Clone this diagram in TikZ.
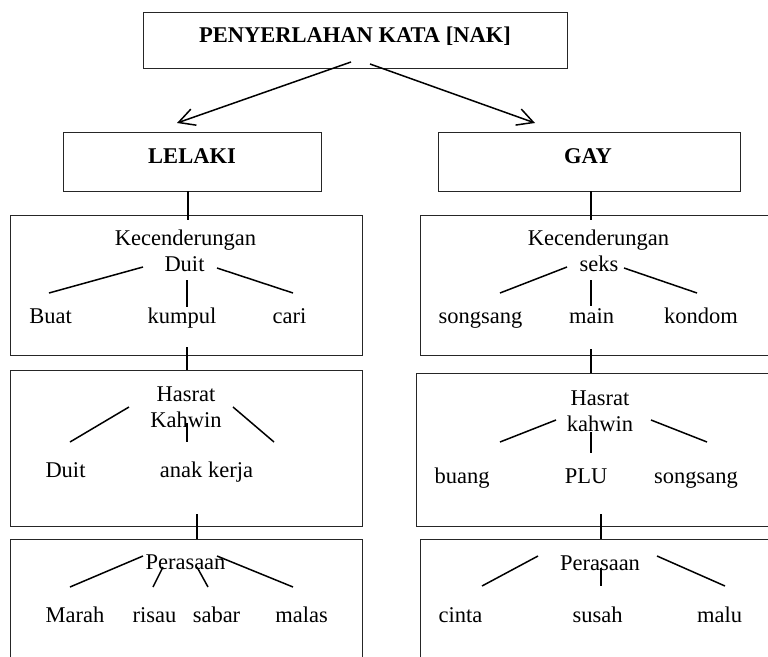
\documentclass[tikz,border=0pt]{standalone}
\usepackage{fontspec}
\setmainfont{Liberation Serif}
\usetikzlibrary{arrows.meta}
\begin{document}
\begin{tikzpicture}[x=1pt,y=-1pt,
  box/.style={draw=black!85,line width=1pt,rectangle,inner sep=0pt},
  lbl/.style={anchor=base,inner sep=0pt,font=\fontsize{22.5}{26}\selectfont},
  ttl/.style={anchor=base,inner sep=0pt,font=\fontsize{22.5}{26}\selectfont\bfseries},
  branch/.style={line width=1.5pt},
  link/.style={line width=1.5pt},
  arr/.style={line width=1.5pt,-{Straight Barb[length=16pt,width=17pt,line width=1.5pt]}}]
\useasboundingbox (0,0) rectangle (768,656);
\clip (0,0) rectangle (768,656);
\fill[white] (0,0) rectangle (768,656);

% boxes
\node[box,minimum width=424pt,minimum height=56pt] (top) at (355,40) {};
\node[box,minimum width=258pt,minimum height=59pt] (lelaki) at (192,161.5) {};
\node[box,minimum width=302pt,minimum height=59pt] (gay) at (589,161.5) {};
\node[box,minimum width=352pt,minimum height=140pt] (l1) at (186,285) {};
\node[box,minimum width=360pt,minimum height=140pt] (r1) at (600,285) {};
\node[box,minimum width=352pt,minimum height=156pt] (l2) at (186,448) {};
\node[box,minimum width=364pt,minimum height=153pt] (r2) at (598,449.5) {};
\node[box,minimum width=352pt,minimum height=141pt] (l3) at (186,609.5) {};
\node[box,minimum width=360pt,minimum height=141pt] (r3) at (600,609.5) {};

% titles
\node[ttl] (ttop) at (355,42) {PENYERLAHAN KATA [NAK]};
\node[ttl] (tlel) at (192,163) {LELAKI};
\node[ttl] (tgay) at (588,163) {GAY};

% box L1
\node[lbl] (l1a) at (185.5,245) {Kecenderungan};
\node[lbl] (l1b) at (184.5,271) {Duit};
\node[lbl] (l1c) at (50.5,323) {Buat};
\node[lbl] (l1d) at (182,323) {kumpul};
\node[lbl] (l1e) at (289.5,323) {cari};
% box R1
\node[lbl] (r1a) at (598.5,245) {Kecenderungan};
\node[lbl] (r1b) at (599,271) {seks};
\node[lbl] (r1c) at (480.5,323) {songsang};
\node[lbl] (r1d) at (591.5,323) {main};
\node[lbl] (r1e) at (701,323) {kondom};
% box L2
\node[lbl] (l2a) at (186,401) {Hasrat};
\node[lbl] (l2b) at (186,427) {Kahwin};
\node[lbl] (l2c) at (65.5,477) {Duit};
\node[lbl] (l2d) at (206.5,477) {anak kerja};
% box R2
\node[lbl] (r2a) at (600,405) {Hasrat};
\node[lbl] (r2b) at (600,431) {kahwin};
\node[lbl] (r2c) at (462,483) {buang};
\node[lbl] (r2d) at (586,483) {PLU};
\node[lbl] (r2e) at (696,483) {songsang};
% box L3
\node[lbl] (l3a) at (185.5,569) {Perasaan};
\node[lbl] (l3b) at (75,622) {Marah};
\node[lbl] (l3c) at (154.5,622) {risau};
\node[lbl] (l3d) at (216.5,622) {sabar};
\node[lbl] (l3e) at (301.5,622) {malas};
% box R3
\node[lbl] (r3a) at (600,570) {Perasaan};
\node[lbl] (r3b) at (460.5,622) {cinta};
\node[lbl] (r3c) at (597.5,622) {susah};
\node[lbl] (r3d) at (719.5,622) {malu};

% arrows from top
\coordinate (ta1) at (351,62); \coordinate (ta2) at (177,123);
\coordinate (tb1) at (370,64); \coordinate (tb2) at (535,123);
\draw[arr] (ta1) -- (ta2);
\draw[arr] (tb1) -- (tb2);

% vertical links between boxes
\coordinate (lk1a) at (188,191); \coordinate (lk1b) at (188,220);
\coordinate (rk1a) at (591,191); \coordinate (rk1b) at (591,220);
\coordinate (lk2a) at (187,347); \coordinate (lk2b) at (187,370);
\coordinate (rk2a) at (591,349); \coordinate (rk2b) at (591,373);
\coordinate (lk3a) at (197,514); \coordinate (lk3b) at (197,539);
\coordinate (rk3a) at (601,514); \coordinate (rk3b) at (601,539);
\draw[link] (lk1a) -- (lk1b);
\draw[link] (rk1a) -- (rk1b);
\draw[link] (lk2a) -- (lk2b);
\draw[link] (rk2a) -- (rk2b);
\draw[link] (lk3a) -- (lk3b);
\draw[link] (rk3a) -- (rk3b);

% branches L1
\coordinate (b1) at (143,267); \coordinate (b2) at (49,293);
\coordinate (b3) at (187,280); \coordinate (b4) at (187,307);
\coordinate (b5) at (217,268); \coordinate (b6) at (293,293);
\draw[branch] (b1) -- (b2); \draw[branch] (b3) -- (b4); \draw[branch] (b5) -- (b6);
% branches R1
\coordinate (c1) at (567,267); \coordinate (c2) at (500,293);
\coordinate (c3) at (591,280); \coordinate (c4) at (591,306);
\coordinate (c5) at (624,268); \coordinate (c6) at (697,293);
\draw[branch] (c1) -- (c2); \draw[branch] (c3) -- (c4); \draw[branch] (c5) -- (c6);
% branches L2
\coordinate (d1) at (129,407); \coordinate (d2) at (70,442);
\coordinate (d3) at (187,423); \coordinate (d4) at (187,442);
\coordinate (d5) at (233,407); \coordinate (d6) at (274,442);
\draw[branch] (d1) -- (d2); \draw[branch] (d3) -- (d4); \draw[branch] (d5) -- (d6);
% branches R2
\coordinate (e1) at (556,420); \coordinate (e2) at (500,442);
\coordinate (e3) at (591,432); \coordinate (e4) at (591,453);
\coordinate (e5) at (651,420); \coordinate (e6) at (707,442);
\draw[branch] (e1) -- (e2); \draw[branch] (e3) -- (e4); \draw[branch] (e5) -- (e6);
% branches L3
\coordinate (f1) at (143,556); \coordinate (f2) at (70,587);
\coordinate (f3) at (163,567); \coordinate (f4) at (153,587);
\coordinate (f5) at (197,567); \coordinate (f6) at (208,587);
\coordinate (f7) at (217,556); \coordinate (f8) at (293,587);
\draw[branch] (f1) -- (f2); \draw[branch] (f3) -- (f4);
\draw[branch] (f5) -- (f6); \draw[branch] (f7) -- (f8);
% branches R3
\coordinate (g1) at (538,556); \coordinate (g2) at (482,586);
\coordinate (g3) at (601,568); \coordinate (g4) at (601,586);
\coordinate (g5) at (657,556); \coordinate (g6) at (725,586);
\draw[branch] (g1) -- (g2); \draw[branch] (g3) -- (g4); \draw[branch] (g5) -- (g6);
\end{tikzpicture}
\end{document}
